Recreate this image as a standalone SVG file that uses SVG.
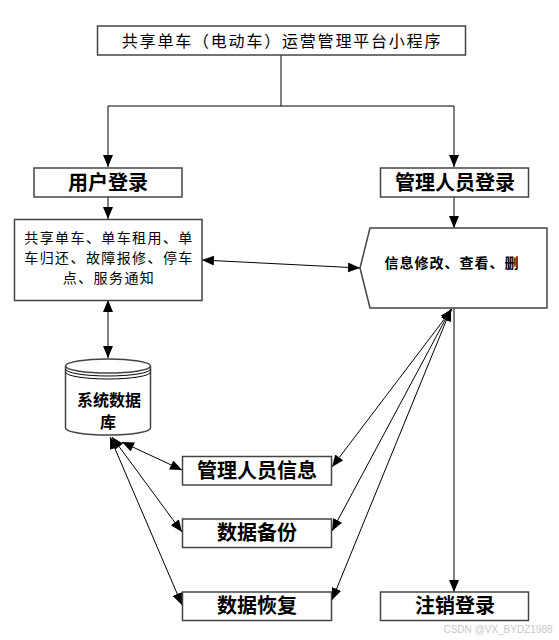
<svg xmlns="http://www.w3.org/2000/svg" width="559" height="640" viewBox="0 0 559 640">
<defs>
<marker id="arr" markerUnits="userSpaceOnUse" markerWidth="13" markerHeight="11" refX="12" refY="5" orient="auto-start-reverse">
<path d="M0,0 L12,5 L0,10 z" fill="#000"/>
</marker>
<style>
.box{fill:#fff;stroke:#444;stroke-width:1.5}
.ln{fill:none;stroke:#000;stroke-width:1}
.t{font-family:"Noto Sans CJK SC","Liberation Sans",sans-serif;fill:#000;text-anchor:middle}
.b{font-weight:bold;font-size:20px}
.s{font-size:14px;letter-spacing:1.4px}
</style>
</defs>
<rect width="559" height="640" fill="#fff"/>
<g id="connectors">
<path class="ln" d="M281,55 V106 M108,106 H454"/>
<path class="ln" d="M108,106 V167" marker-end="url(#arr)"/>
<path class="ln" d="M454,106 V167" marker-end="url(#arr)"/>
<path class="ln" d="M108,197 V219" marker-end="url(#arr)"/>
<path class="ln" d="M454,197 V228" marker-end="url(#arr)"/>
<path class="ln" d="M202,260 L360,268" marker-start="url(#arr)" marker-end="url(#arr)"/>
<path class="ln" d="M108,300 V358" marker-start="url(#arr)" marker-end="url(#arr)"/>
<path class="ln" d="M122,442 L182,470" marker-start="url(#arr)" marker-end="url(#arr)"/>
<path class="ln" d="M112,437 L182,532" marker-start="url(#arr)" marker-end="url(#arr)"/>
<path class="ln" d="M110,437 L182,605" marker-start="url(#arr)" marker-end="url(#arr)"/>
<path class="ln" d="M452,309 L332,467" marker-start="url(#arr)" marker-end="url(#arr)"/>
<path class="ln" d="M451,309 L332,531" marker-start="url(#arr)" marker-end="url(#arr)"/>
<path class="ln" d="M451,309 L332,600" marker-start="url(#arr)" marker-end="url(#arr)"/>
<path class="ln" d="M454,308 V592" marker-end="url(#arr)"/>
</g>
<g id="title">
<rect class="box" x="97.5" y="26" width="368" height="29"/>
<text class="t" x="282" y="47" font-size="16" letter-spacing="1.8">共享单车（电动车）运营管理平台小程序</text>
</g>
<g id="user-login">
<rect class="box" x="34" y="168" width="148" height="29"/>
<text class="t b" x="108" y="190">用户登录</text>
</g>
<g id="admin-login">
<rect class="box" x="380.5" y="168" width="148" height="29"/>
<text class="t b" x="455" y="190">管理人员登录</text>
</g>
<g id="user-functions">
<rect class="box" x="14.5" y="219.5" width="187.5" height="81"/>
<text class="t s" x="109" y="243">共享单车、单车租用、单</text>
<text class="t s" x="109" y="263">车归还、故障报修、停车</text>
<text class="t s" x="109" y="283">点、服务通知</text>
</g>
<g id="admin-functions">
<polygon class="box" points="370,228 547,228 547,308 370,308 360,268"/>
<text class="t" x="452" y="268" font-size="14" font-weight="bold" letter-spacing="1">信息修改、查看、删</text>
</g>
<g id="database">
<path class="box" d="M65.5,366 A42.5,7 0 0 1 150.5,366 V428 A42.5,7 0 0 1 65.5,428 Z"/>
<path class="box" d="M65.5,366 A42.5,7 0 0 0 150.5,366" fill="none"/>
<path class="ln" d="M65.5,369 A42.5,7 0 0 0 150.5,369 M65.5,372 A42.5,7 0 0 0 150.5,372" stroke="#444"/>
<text class="t" x="109" y="406" font-size="16" font-weight="bold">系统数据</text>
<text class="t" x="108" y="428" font-size="16" font-weight="bold">库</text>
</g>
<g id="admin-info">
<rect class="box" x="182.5" y="456.5" width="149" height="28.5"/>
<text class="t b" x="257" y="478">管理人员信息</text>
</g>
<g id="backup">
<rect class="box" x="182.5" y="519" width="149" height="28.5"/>
<text class="t b" x="257" y="540">数据备份</text>
</g>
<g id="restore">
<rect class="box" x="182.5" y="592" width="149" height="28.5"/>
<text class="t b" x="257" y="613">数据恢复</text>
</g>
<g id="logout">
<rect class="box" x="380.5" y="592" width="148" height="28.5"/>
<text class="t b" x="455" y="613">注销登录</text>
</g>
<text x="498" y="633" font-family="Liberation Sans, sans-serif" font-size="10" fill="#c8c8c8" text-anchor="middle">CSDN @VX_BYDZ1988</text>
</svg>
